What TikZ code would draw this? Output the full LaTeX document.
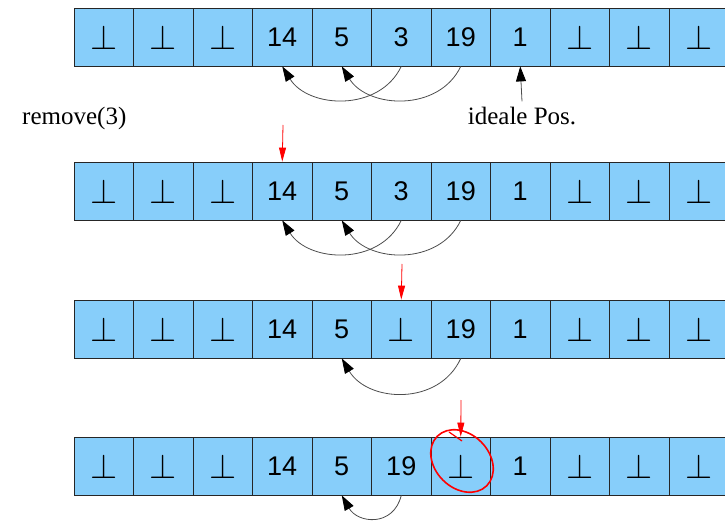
\documentclass[tikz,border=0pt]{standalone}
\usepackage{graphicx}
\usepackage{fontspec}
\setmainfont{Liberation Serif}
\newfontfamily\cellfont{Liberation Sans}
\usetikzlibrary{arrows.meta,shapes.geometric}
\definecolor{cellblue}{RGB}{135,206,250}
\newcommand{\botsym}{\scalebox{1.4}{$\bot$}}
\begin{document}
\begin{tikzpicture}[x=1pt,y=-1pt,
  cell/.style={draw=black!85, fill=cellblue, minimum width=59.5pt, minimum height=58pt,
    inner sep=0pt, line width=0.8pt, font=\cellfont\fontsize{27}{30}\selectfont},
  move/.style={draw=black!70, line width=0.8pt,
    -{Triangle[length=15pt,width=10pt,fill=black,color=black]}},
  redarrow/.style={draw=red, line width=0.8pt,
    -{Triangle[length=14pt,width=7pt,fill=red,color=red]}},
  lbl/.style={font=\fontsize{25}{28}\selectfont, inner sep=6pt}
]
\useasboundingbox (0,0) rectangle (725,521);
% rows
\foreach \v [count=\i from 0] in {\botsym,\botsym,\botsym,14,5,3,19,1,\botsym,\botsym,\botsym}
  \node[cell] (r1c\i) at ({74+59.5*(\i+0.5)},37) {\v};
\foreach \v [count=\i from 0] in {\botsym,\botsym,\botsym,14,5,3,19,1,\botsym,\botsym,\botsym}
  \node[cell] (r2c\i) at ({74+59.5*(\i+0.5)},191) {\v};
\foreach \v [count=\i from 0] in {\botsym,\botsym,\botsym,14,5,\botsym,19,1,\botsym,\botsym,\botsym}
  \node[cell] (r3c\i) at ({74+59.5*(\i+0.5)},329) {\v};
\foreach \v [count=\i from 0] in {\botsym,\botsym,\botsym,14,5,19,\botsym,1,\botsym,\botsym,\botsym}
  \node[cell] (r4c\i) at ({74+59.5*(\i+0.5)},466) {\v};
% labels
\node[lbl, anchor=base west] (rem) at (16,125) {remove(3)};
\node[lbl, anchor=base] (ideal) at (522,125) {ideale Pos.};
\draw[move] (ideal.north) -- (r1c7.south);
% arcs row 1
\draw[move] (r1c5.south) .. controls +(-22,46) and +(26,42) .. (r1c3.south);
\draw[move] (r1c6.south) .. controls +(-22,46) and +(26,42) .. (r1c4.south);
% arcs row 2
\draw[move] (r2c5.south) .. controls +(-22,46) and +(26,42) .. (r2c3.south);
\draw[move] (r2c6.south) .. controls +(-22,46) and +(26,42) .. (r2c4.south);
% arc row 3
\draw[move] (r3c6.south) .. controls +(-22,48) and +(26,44) .. (r3c4.south);
% arc row 4
\draw[move] (r4c5.south) .. controls +(-8,32) and +(16,28) .. (r4c4.south);
% red arrows
\coordinate (p2) at (283,125);
\coordinate (p3) at (402,264);
\coordinate (p4) at (461,400);
\draw[redarrow] (p2) -- (r2c3.north);
\draw[redarrow] (p3) -- (r3c5.north);
\draw[redarrow] (p4) -- (r4c6.north);
% red ellipse
\draw[red, line width=1.6pt, rotate around={-45:(462,461)}] (462,461) ellipse [x radius=35pt, y radius=27pt];
\draw[red, line width=1.2pt] (449,432) -- (462,441);
\end{tikzpicture}
\end{document}
